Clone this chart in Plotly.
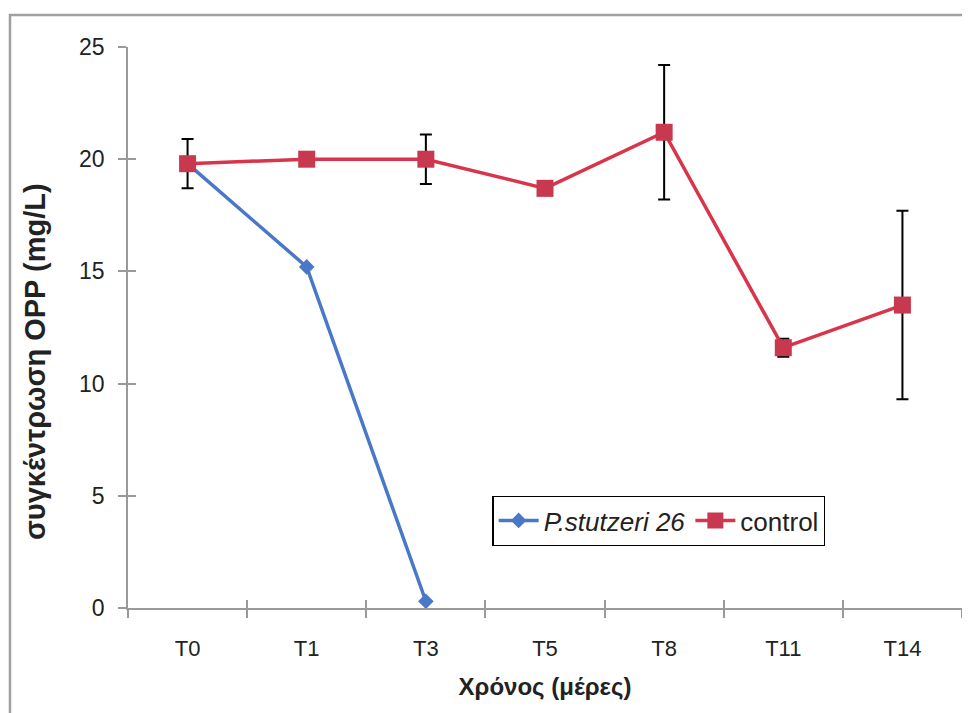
import plotly.graph_objects as go

categories = ["T0", "T1", "T3", "T5", "T8", "T11", "T14"]
stutzeri_x = ["T0", "T1", "T3"]
stutzeri_y = [19.8, 15.2, 0.3]
control_y = [19.8, 20.0, 20.0, 18.7, 21.2, 11.6, 13.5]
control_err = [1.1, 0.0, 1.1, 0.0, 3.0, 0.4, 4.2]

font_family = "Liberation Sans, Arial, sans-serif"
axis_color = "#9A9A9A"

fig = go.Figure()
# helper trace (invisible) so the overlaid axes carrying the inner half of the crossing ticks are drawn
fig.add_trace(go.Scatter(
    x=categories, y=control_y, xaxis="x2", yaxis="y2",
    mode="markers", marker=dict(opacity=0, size=1),
    showlegend=False, hoverinfo="skip",
))
fig.add_trace(go.Scatter(
    x=stutzeri_x, y=stutzeri_y, mode="lines+markers",
    name="<i>P.stutzeri 26</i>",
    line=dict(color="#4A78C8", width=3.5),
    marker=dict(symbol="diamond", size=12, color="#4A78C8"),
))
fig.add_trace(go.Scatter(
    x=categories, y=control_y, mode="lines+markers",
    name="control",
    line=dict(color="#D9344A", width=3.5),
    marker=dict(symbol="square", size=17, color="#C8384F"),
    error_y=dict(type="data", array=control_err, visible=True,
                 color="black", thickness=2, width=6),
))

fig.update_layout(
    width=962, height=705,
    margin=dict(l=120, r=8, t=39, b=105),
    paper_bgcolor="white", plot_bgcolor="rgba(0,0,0,0)",
    font=dict(family=font_family, size=22, color="#222"),
    showlegend=True,
    legend=dict(
        x=0.437, y=0.2, xanchor="left", yanchor="top",
        orientation="h", bordercolor="black", borderwidth=1.2,
        bgcolor="white", font=dict(size=26, color="#222"),
        tracegroupgap=0, itemwidth=40,
    ),
    shapes=[dict(type="rect", xref="paper", yref="paper",
                 x0=-0.1415, x1=1.05, y0=-0.4, y1=1.057,
                 line=dict(color="#A0A0A0", width=2.5), layer="below")],
    xaxis=dict(
        type="category", categoryorder="array", categoryarray=categories,
        range=[-0.5, 6.5], tickson="boundaries",
        showline=True, linecolor=axis_color, linewidth=1.5,
        ticks="outside", ticklen=8, tickcolor=axis_color, tickwidth=1.5,
        showgrid=False, zeroline=False, ticklabelstandoff=20,
        tickfont=dict(size=22, color="#222"),
        title=dict(text="<b>Χρόνος (μέρες)</b>", font=dict(size=24, color="#222"), standoff=18),
    ),
    yaxis=dict(
        range=[0, 25], dtick=5, tick0=0,
        showline=True, linecolor=axis_color, linewidth=1.5,
        ticks="outside", ticklen=8, tickcolor=axis_color, tickwidth=1.5,
        showgrid=False, zeroline=False, ticklabelstandoff=9,
        tickfont=dict(size=23, color="#222"),
    ),
    xaxis2=dict(
        type="category", categoryorder="array", categoryarray=categories,
        range=[-0.5, 6.5], tickson="boundaries", overlaying="x", anchor="y",
        side="bottom", showline=False, ticks="inside", ticklen=8,
        tickcolor=axis_color, tickwidth=1.5,
        showticklabels=False, showgrid=False, zeroline=False,
    ),
    yaxis2=dict(
        range=[0, 25], dtick=5, tick0=0, overlaying="y", anchor="x", side="left",
        showline=False, ticks="inside", ticklen=8, tickcolor=axis_color, tickwidth=1.5,
        showticklabels=False, showgrid=False, zeroline=False,
    ),
    annotations=[dict(
        text="<b>συγκέντρωση OPP (mg/L)</b>", textangle=-90,
        xref="paper", yref="paper", x=-0.1115, y=0.4385,
        xanchor="center", yanchor="middle", showarrow=False,
        font=dict(size=29, color="#222"),
    )],
)

fig.write_html("out.html")
